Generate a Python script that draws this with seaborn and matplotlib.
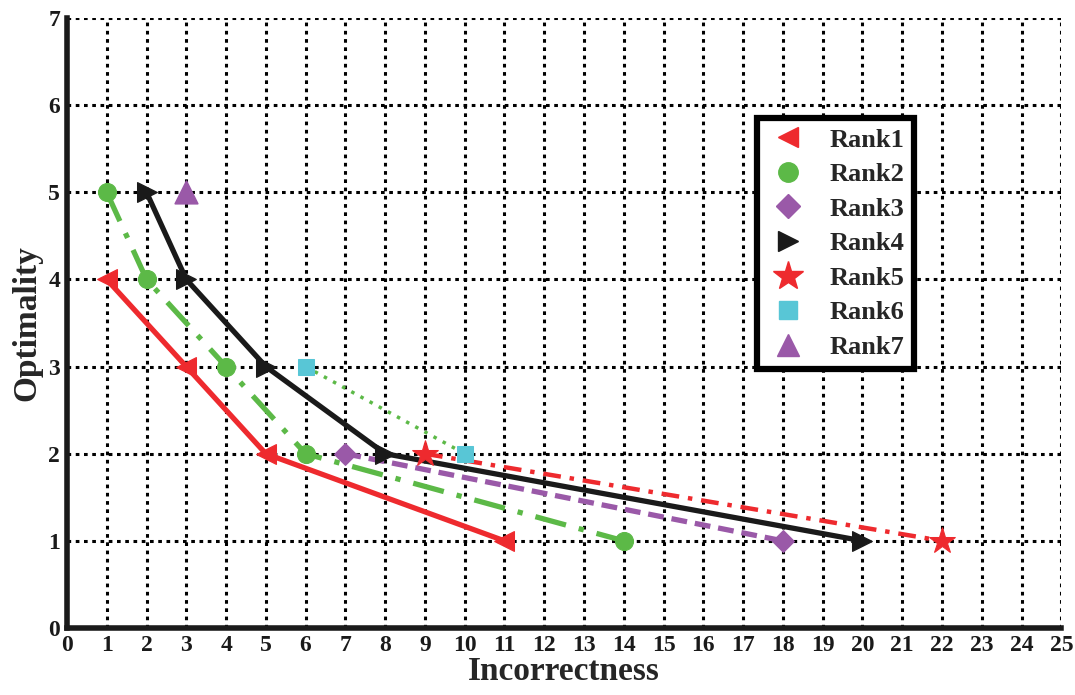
import matplotlib
matplotlib.use("Agg")
import matplotlib.pyplot as plt
import seaborn as sns
import pandas as pd
from matplotlib.lines import Line2D

# ---- data ----
rank1_x = [1, 3, 5, 11]
rank1_y = [4, 3, 2, 1]
rank2_x = [1, 2, 4, 6, 14]
rank2_y = [5, 4, 3, 2, 1]
rank3_x = [7, 18]
rank3_y = [2, 1]
rank4_x = [2, 3, 5, 8, 20]
rank4_y = [5, 4, 3, 2, 1]
rank5_x = [9, 22]
rank5_y = [2, 1]
rank6_x = [6, 10]
rank6_y = [3, 2]
rank7_x = [3]
rank7_y = [5]
labels = ["Rank1", "Rank2", "Rank3", "Rank4", "Rank5", "Rank6", "Rank7"]
x_ticks = list(range(0, 26))
y_ticks = list(range(0, 8))

sns.set_style("white")
plt.rcParams['font.family'] = ['Liberation Serif', 'DejaVu Serif']
plt.rcParams['font.weight'] = 'bold'

RED = "#ee2a2e"
GREEN = "#5cb947"
PURPLE = "#9a59a8"
BLACK = "#1a1a1a"
CYAN = "#58c6d6"

fig = plt.figure(figsize=(10.75, 6.95), dpi=100)
ax = fig.add_axes([0.0623, 0.0964, 0.925, 0.8776])

series = [
    (rank1_x, rank1_y, RED, RED, "<", "-", 3.8, 14),
    (rank2_x, rank2_y, GREEN, GREEN, "o", (0, (6, 2.5, 1, 2.5)), 3.8, 13),
    (rank3_x, rank3_y, PURPLE, PURPLE, "D", (0, (3, 1.5)), 3.8, 11),
    (rank4_x, rank4_y, BLACK, BLACK, ">", "-", 3.8, 14),
    (rank5_x, rank5_y, RED, RED, "*", (0, (4, 2, 1, 2)), 3.2, 20),
    (rank6_x, rank6_y, GREEN, CYAN, "s", (0, (1, 2)), 2.5, 12),
]
for (xs, ys, lc, mc, mk, ls, lw, ms) in series:
    df = pd.DataFrame({"x": xs, "y": ys})
    sns.lineplot(data=df, x="x", y="y", ax=ax, color=lc, linewidth=lw,
                 linestyle=ls, marker=mk, markersize=ms, markerfacecolor=mc,
                 markeredgecolor=mc, zorder=3, legend=False)

df7 = pd.DataFrame({"x": rank7_x, "y": rank7_y})
sns.scatterplot(data=df7, x="x", y="y", ax=ax, color=PURPLE, marker="^",
                s=260, edgecolor=PURPLE, zorder=3, legend=False)

ax.set_xlim(0, 25)
ax.set_ylim(0, 7)
ax.set_xticks(x_ticks)
ax.set_yticks(y_ticks)
ax.set_xticklabels([str(t) for t in x_ticks], fontsize=17, fontweight='bold')
ax.set_yticklabels([str(t) for t in y_ticks], fontsize=17, fontweight='bold')
ax.grid(True, color="black", linestyle=(0, (1.2, 1.5)), linewidth=2.2, zorder=0)
ax.set_axisbelow(True)

for s in ["top", "right"]:
    ax.spines[s].set_visible(False)
for s in ["left", "bottom"]:
    ax.spines[s].set_linewidth(4)
    ax.spines[s].set_color("#1a1a1a")
ax.tick_params(direction="in", length=7, width=4, pad=5, colors="#1a1a1a")

ax.set_xlabel("Incorrectness", fontsize=24, fontweight="bold", labelpad=0)
ax.set_ylabel("Optimality", fontsize=24, fontweight="bold", labelpad=4)

handles = [
    Line2D([], [], linestyle="none", marker="<", color=RED, markersize=15),
    Line2D([], [], linestyle="none", marker="o", color=GREEN, markersize=14),
    Line2D([], [], linestyle="none", marker="D", color=PURPLE, markersize=12),
    Line2D([], [], linestyle="none", marker=">", color=BLACK, markersize=15),
    Line2D([], [], linestyle="none", marker="*", color=RED, markersize=22),
    Line2D([], [], linestyle="none", marker="s", color=CYAN, markersize=13),
    Line2D([], [], linestyle="none", marker="^", color=PURPLE, markersize=16),
]
leg = ax.legend(handles, labels, loc="upper left", bbox_to_anchor=(0.694, 0.836),
                prop={"family": "Liberation Serif", "weight": "bold", "size": 19},
                frameon=True, fancybox=False, framealpha=1, edgecolor="black",
                borderpad=0.38, labelspacing=0.42, handlelength=1.6,
                handletextpad=0.75, borderaxespad=0)
leg.get_frame().set_linewidth(4.5)
leg.set_zorder(5)

fig.savefig("out.png", dpi=100)
